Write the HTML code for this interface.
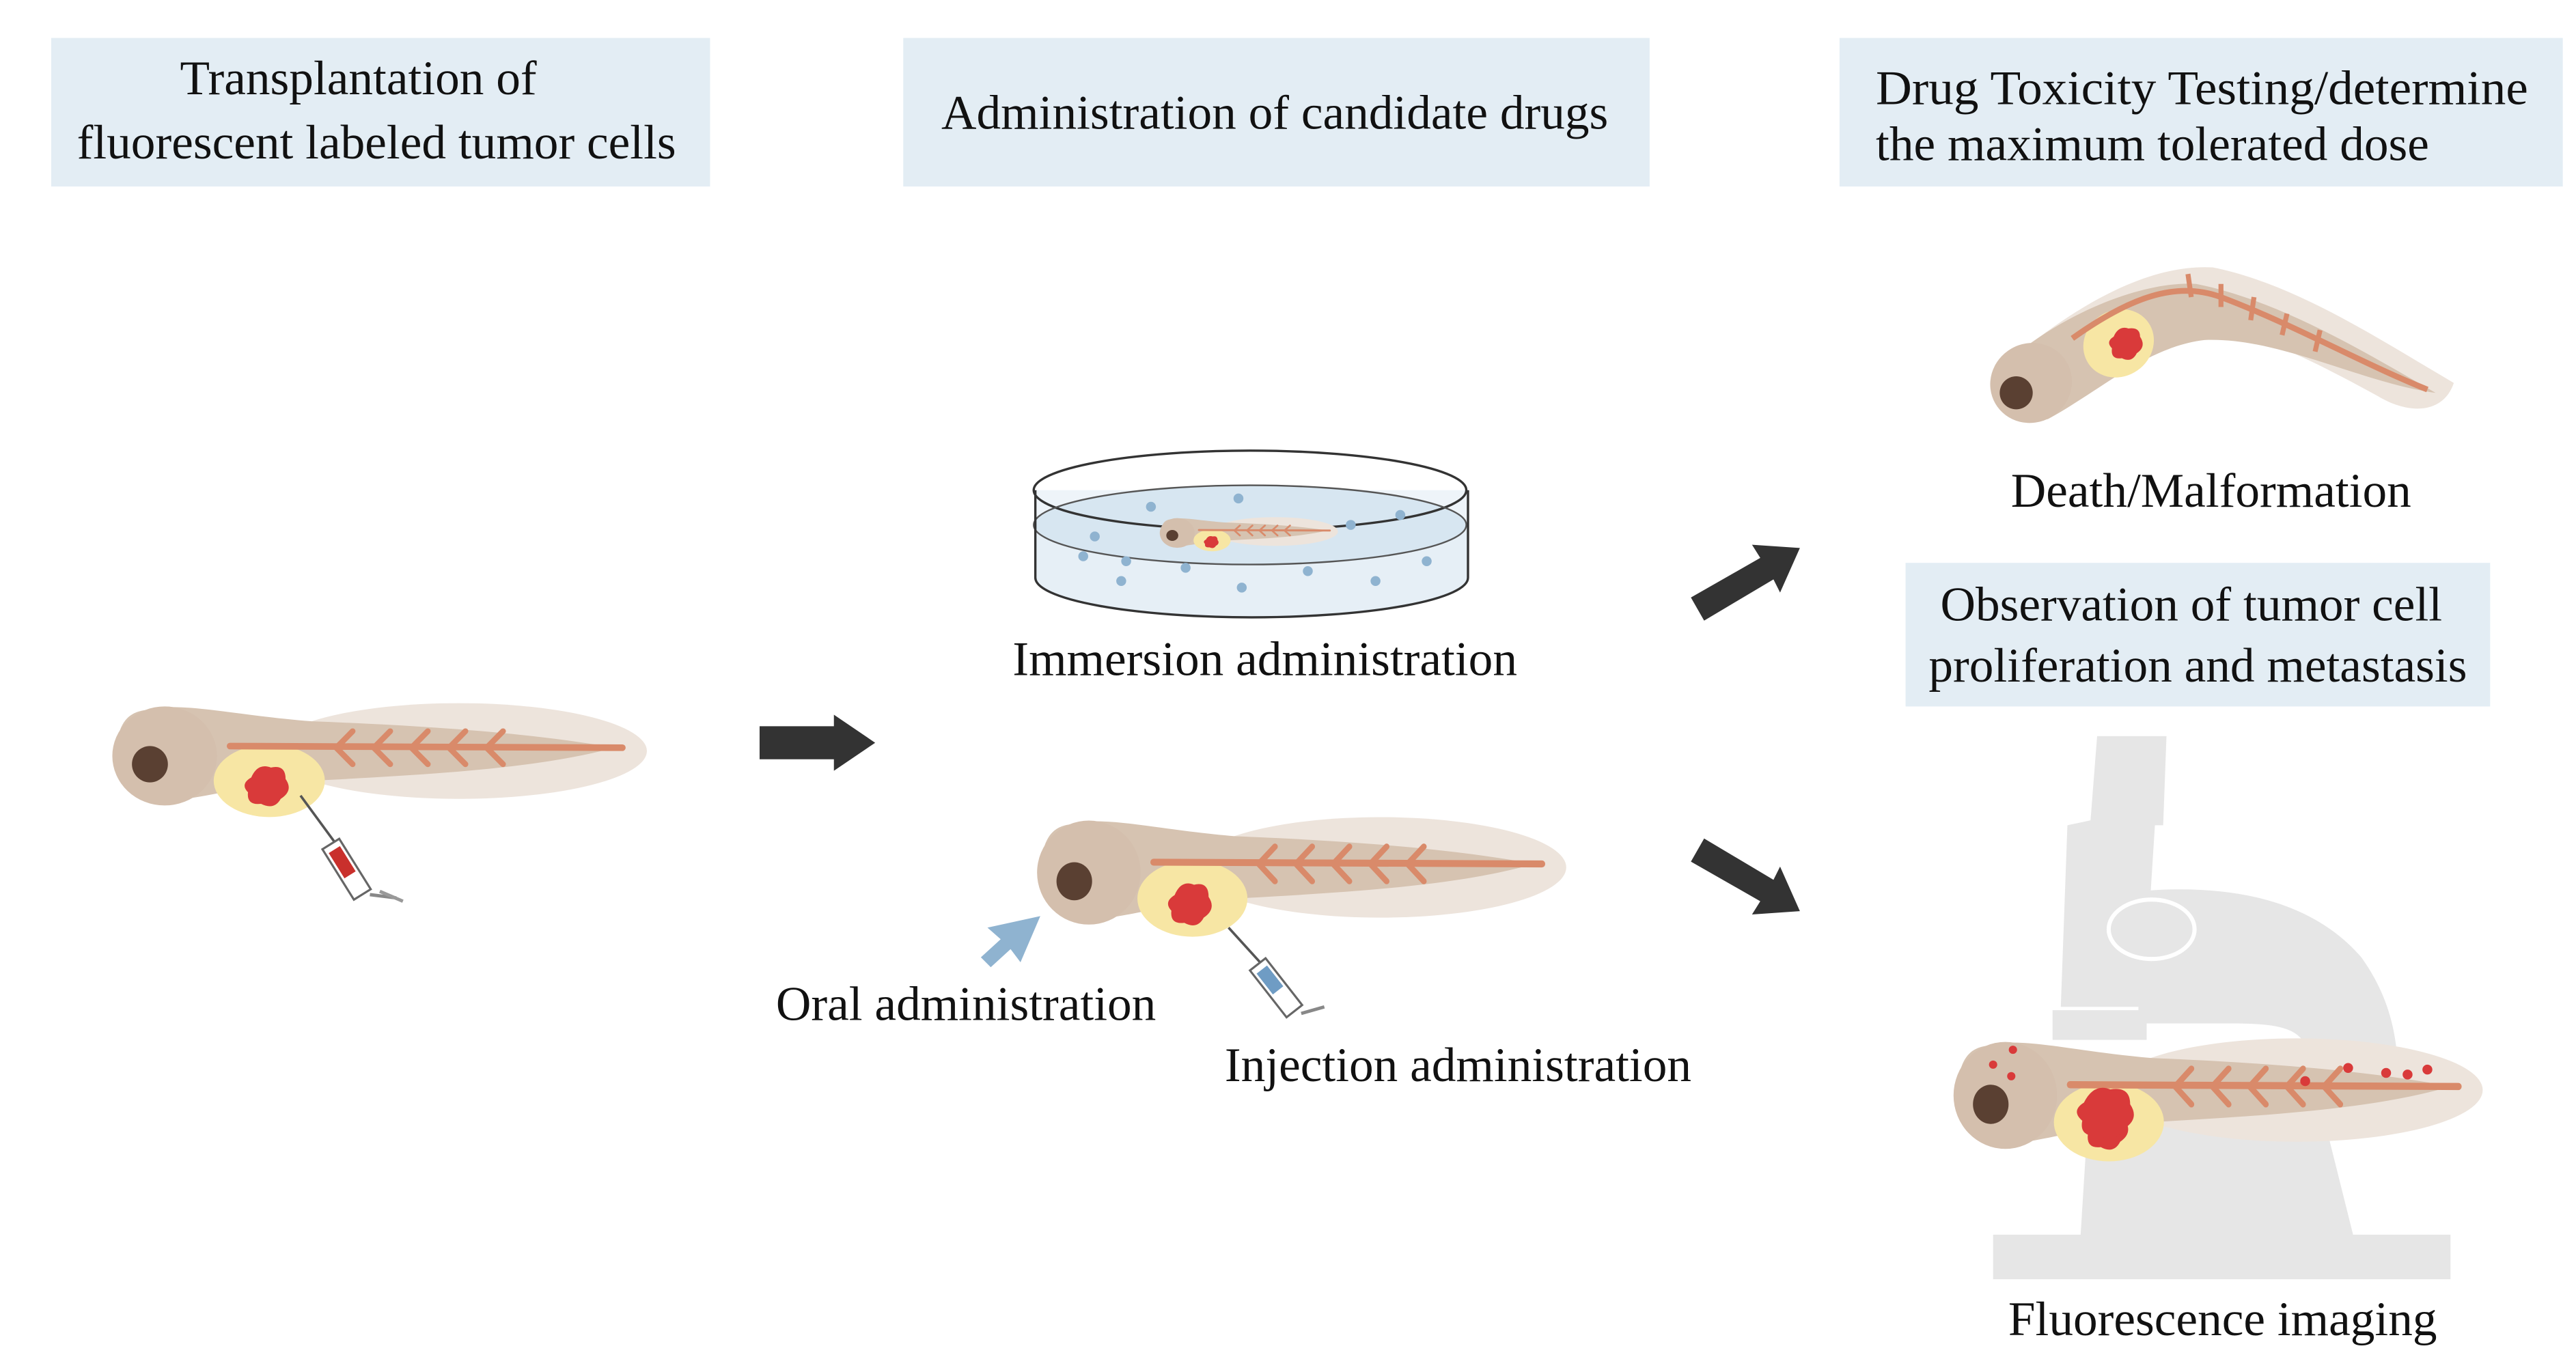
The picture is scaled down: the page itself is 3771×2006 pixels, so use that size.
<!DOCTYPE html>
<html><head><meta charset="utf-8"><style>
html,body{margin:0;padding:0;background:#fff}
svg{display:block}
text{font-family:"Liberation Serif",serif;fill:#111}
</style></head><body>
<svg width="3771" height="2006" viewBox="0 0 1560 830" preserveAspectRatio="none" xmlns="http://www.w3.org/2000/svg">
<defs>
<g id="fish">
 <ellipse cx="210" cy="30" rx="115" ry="29" fill="#ede4dc"/>
 <path d="M20,5 C40,0 70,8 120,12 C200,15 260,20 305,28 C260,40 200,44 120,48 C80,50 50,60 30,60 C5,62 -2,45 0,30 C2,12 8,6 20,5 Z" fill="#d6c3b1"/>
 <ellipse cx="30" cy="33" rx="32" ry="30" fill="#d4bfad"/>
 <ellipse cx="94" cy="48" rx="34" ry="22" fill="#f7e6a4"/>
 <path d="M70,27 L310,28" stroke="#d98a6a" stroke-width="4" stroke-linecap="round"/>
 <g stroke="#d98a6a" stroke-width="3.5" fill="none" stroke-linecap="round">
  <path d="M145,18 L135,28 L145,38"/><path d="M168,18 L158,28 L168,38"/><path d="M191,18 L181,28 L191,38"/><path d="M214,18 L204,28 L214,38"/><path d="M237,18 L227,28 L237,38"/>
 </g>
 <circle cx="21" cy="38" r="11" fill="#5a4032"/>
 <path d="M83,46 q4,-9 12,-6 q9,-2 9,7 q5,7 -3,12 q-4,7 -12,3 q-9,1 -8,-7 q-5,-5 2,-9z" fill="#d93a3a"/>
</g>
</defs>

<rect x="31" y="23" width="399" height="90" fill="#e3edf4"/>
<rect x="547" y="23" width="452" height="90" fill="#e3edf4"/>
<rect x="1114" y="23" width="438" height="90" fill="#e3edf4"/>
<rect x="1154" y="341" width="354" height="87" fill="#e3edf4"/>
<g font-size="29.5">
<text x="217" y="57" text-anchor="middle">Transplantation of</text>
<text x="228" y="96" text-anchor="middle">fluorescent labeled tumor cells</text>
<text x="772" y="78" text-anchor="middle">Administration of candidate drugs</text>
<text x="1136" y="63" textLength="395" lengthAdjust="spacingAndGlyphs">Drug Toxicity Testing/determine</text>
<text x="1136" y="97">the maximum tolerated dose</text>
<text x="1327" y="376" text-anchor="middle">Observation of tumor cell</text>
<text x="1331" y="413" text-anchor="middle">proliferation and metastasis</text>
<text x="1339" y="307" text-anchor="middle">Death/Malformation</text>
<text x="766" y="409" text-anchor="middle">Immersion administration</text>
<text x="585" y="618" text-anchor="middle">Oral administration</text>
<text x="883" y="655" text-anchor="middle">Injection administration</text>
<text x="1346" y="809" text-anchor="middle">Fluorescence imaging</text>
</g>

<use href="#fish" transform="translate(70,425) scale(0.99,1.0)"/>
<g transform="translate(182,482)">
 <line x1="0" y1="0" x2="22" y2="30" stroke="#555" stroke-width="1.5"/>
 <g transform="rotate(-32 30 48)"><rect x="24" y="26" width="12" height="36" fill="#fff" stroke="#666" stroke-width="1.3"/><rect x="26" y="30" width="8" height="18" fill="#c9302c"/></g>
 <line x1="42" y1="60" x2="58" y2="62" stroke="#888" stroke-width="2"/>
 <line x1="48" y1="58" x2="62" y2="64" stroke="#999" stroke-width="2"/>
</g>
<path d="M460,440 L505,440 L505,433 L530,450 L505,467 L505,460 L460,460 Z" fill="#333"/>

<path d="M627,297 L627,350 A131,24 0 0 0 889,350 L889,297 Z" fill="#eef4f9"/>
<ellipse cx="757" cy="318" rx="131" ry="24" fill="#d7e6f1"/>
<path d="M627,318 L627,350 A131,24 0 0 0 889,350 L889,318 A131,24 0 0 1 627,318 Z" fill="#e6eff6"/>
<ellipse cx="757" cy="297" rx="131" ry="24" fill="none" stroke="#333" stroke-width="1.4"/>
<ellipse cx="757" cy="318" rx="131" ry="24" fill="none" stroke="#555" stroke-width="1"/>
<path d="M627,297 L627,350 A131,24 0 0 0 889,350 L889,297" fill="none" stroke="#333" stroke-width="1.4"/>
<g fill="#8fb3d0">
<circle cx="697" cy="307" r="3"/><circle cx="750" cy="302" r="3"/><circle cx="848" cy="312" r="3"/><circle cx="818" cy="318" r="3"/><circle cx="663" cy="325" r="3"/><circle cx="656" cy="337" r="3"/><circle cx="682" cy="340" r="3"/><circle cx="718" cy="344" r="3"/><circle cx="679" cy="352" r="3"/><circle cx="752" cy="356" r="3"/><circle cx="792" cy="346" r="3"/><circle cx="833" cy="352" r="3"/><circle cx="864" cy="340" r="3"/>
</g>
<use href="#fish" transform="translate(703,313) scale(0.33,0.3)"/>

<use href="#fish" transform="translate(630,494) scale(0.98,1.05)"/>
<g transform="translate(744,562)">
 <line x1="0" y1="0" x2="20" y2="22" stroke="#555" stroke-width="1.5"/>
 <g transform="rotate(-38 30 38)"><rect x="24" y="18" width="12" height="36" fill="#fff" stroke="#666" stroke-width="1.3"/><rect x="26" y="22" width="8" height="16" fill="#6f9cc4"/></g>
 <line x1="44" y1="52" x2="58" y2="48" stroke="#888" stroke-width="2"/>
</g>
<path d="M630,555 L618,583 L612,575 L600,586 L594,580 L606,569 L598,562 Z" fill="#8fb3d0"/>

<path d="M1024,362 L1066,338 L1061,330 L1090,332 L1078,359 L1074,351 L1032,376 Z" fill="#333"/>
<path d="M1032,508 L1074,533 L1078,525 L1090,552 L1061,554 L1066,546 L1024,522 Z" fill="#333"/>

<path d="M1225,212 C1265,180 1305,160 1340,162 C1390,172 1440,205 1486,232 C1480,250 1460,252 1440,240 C1400,218 1360,198 1335,200 C1300,205 1275,228 1250,248 Z" fill="#ede4dc"/>
<path d="M1212,222 C1250,188 1300,170 1330,172 C1380,182 1430,212 1475,238 C1430,232 1380,204 1335,206 C1300,210 1270,238 1240,254 Z" fill="#d6c3b1"/>
<ellipse cx="1230" cy="232" rx="25" ry="24" transform="rotate(-30 1230 232)" fill="#d4bfad"/>
<ellipse cx="1283" cy="208" rx="22" ry="20" transform="rotate(-35 1283 208)" fill="#f7e6a4"/>
<path d="M1255,205 C1290,180 1318,170 1345,180 C1390,197 1430,220 1470,236" stroke="#d98a6a" stroke-width="3.5" fill="none"/>
<g stroke="#d98a6a" stroke-width="3" fill="none"><path d="M1325,166 l2,14"/><path d="M1345,172 l0,14"/><path d="M1365,180 l-2,14"/><path d="M1385,190 l-3,13"/><path d="M1405,200 l-3,13"/></g>
<circle cx="1221" cy="238" r="10" fill="#5a4032"/>
<path d="M1280,204 q3,-7 9,-5 q7,-1 7,5 q4,6 -2,10 q-3,6 -9,3 q-7,1 -6,-6 q-4,-4 1,-7z" fill="#d93a3a"/>

<g fill="#e6e6e6">
<path d="M1270,446 L1312,446 L1310,500 L1305,500 L1298,610 L1248,610 L1252,500 L1266,497 Z"/>
<path d="M1243,612 L1300,612 L1300,630 L1243,630 Z"/>
<path d="M1295,540 C1350,535 1400,545 1430,580 C1448,605 1452,630 1452,650 L1400,650 C1398,625 1390,620 1350,620 L1295,620 Z"/>
<path d="M1207,652 L1452,652 L1452,668 L1405,668 L1425,748 L1484,748 L1484,775 L1207,775 L1207,748 L1260,748 L1265,668 L1207,668 Z"/>
</g>
<ellipse cx="1303" cy="563" rx="26" ry="18" fill="none" stroke="#fff" stroke-width="2.5"/>
<use href="#fish" transform="translate(1185,628) scale(0.98,1.08)"/>
<g fill="#d93a3a">
<circle cx="1207" cy="645" r="2.5"/><circle cx="1219" cy="636" r="2.5"/><circle cx="1218" cy="652" r="2.5"/>
<circle cx="1396" cy="655" r="3"/><circle cx="1422" cy="647" r="3"/><circle cx="1445" cy="650" r="3"/><circle cx="1458" cy="651" r="3"/><circle cx="1470" cy="648" r="3"/>
</g>
<path d="M1262,668 q6,-12 16,-8 q12,-2 12,9 q6,9 -4,15 q-5,9 -15,4 q-12,1 -10,-9 q-7,-6 1,-11z" fill="#d93a3a"/>
</svg>
</body></html>
